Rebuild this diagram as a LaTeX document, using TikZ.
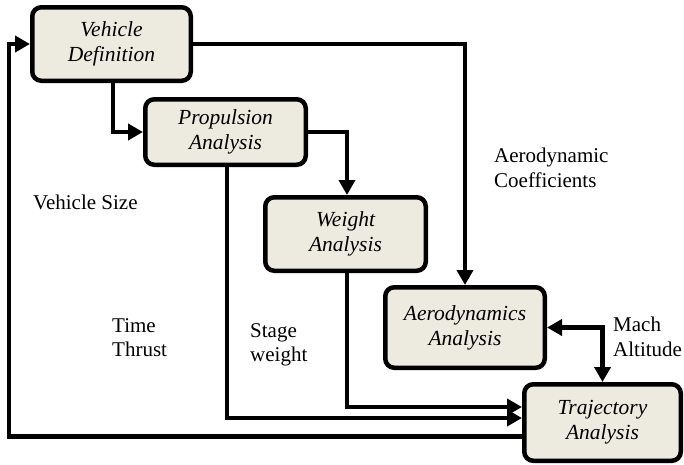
\documentclass[tikz,border=0pt]{standalone}
\usepackage{fontspec}
\setmainfont{Liberation Serif}
\usetikzlibrary{arrows.meta}

\definecolor{boxfill}{HTML}{EDEAE0}

\tikzset{
  block/.style={draw, line width=4.5pt, rounded corners=9pt, fill=boxfill,
    align=center, inner sep=0pt, font=\itshape\fontsize{21.5}{25}\selectfont},
  flow/.style={line width=4.5pt, -{Triangle[length=15pt,width=16pt]}},
  flowboth/.style={line width=4.5pt, {Triangle[length=15pt,width=16pt]}-{Triangle[length=15pt,width=16pt]}},
  lbl/.style={anchor=north west, align=left, inner sep=0pt,
    font=\fontsize{21}{24.5}\selectfont}
}

\begin{document}
\begin{tikzpicture}[x=1pt, y=-1pt]
  \useasboundingbox (0,0) rectangle (684,464);

  % analysis blocks
  \node[block, minimum width=158.5pt, minimum height=73.5pt] (vd) at (111.5,44) {Vehicle\\Definition};
  \node[block, minimum width=160.5pt, minimum height=65.5pt] (prop) at (225.5,132) {Propulsion\\Analysis};
  \node[block, minimum width=160.5pt, minimum height=73.5pt] (wt) at (345.5,234) {Weight\\Analysis};
  \node[block, minimum width=159.5pt, minimum height=80.5pt] (aero) at (465,327.5) {Aerodynamics\\Analysis};
  \node[block, minimum width=156.5pt, minimum height=76.5pt] (traj) at (602.5,422.5) {Trajectory\\Analysis};

  % data flow
  \draw[flow] (vd.east) -| (aero.north);
  \draw[flow] ([xshift=1.5pt]vd.south) |- (prop.west);
  \draw[flow] (prop.east) -| ([xshift=1.5pt]wt.north);
  \draw[flow] ([xshift=1.5pt]prop.south) |- ([yshift=4.5pt]traj.west);
  \draw[flow] ([xshift=1.5pt]wt.south) |- ([yshift=15.5pt]traj.west);
  \draw[flowboth] (aero.east) -| (traj.north);

  % feedback loop to the vehicle definition
  \coordinate (back) at (9,0);
  \draw[flow] ([yshift=-14pt]traj.west) -| (back |- vd.west) -- (vd.west);

  % labels
  \node[lbl] (coef) at (494,148) {Aerodynamic\\Coefficients};
  \node[lbl] (size) at (33,195) {Vehicle Size};
  \node[lbl] (tt) at (112,318) {Time\\Thrust};
  \node[lbl] (sw) at (250,323) {Stage\\weight};
  \node[lbl] (ma) at (613,317) {Mach\\Altitude};
\end{tikzpicture}
\end{document}
